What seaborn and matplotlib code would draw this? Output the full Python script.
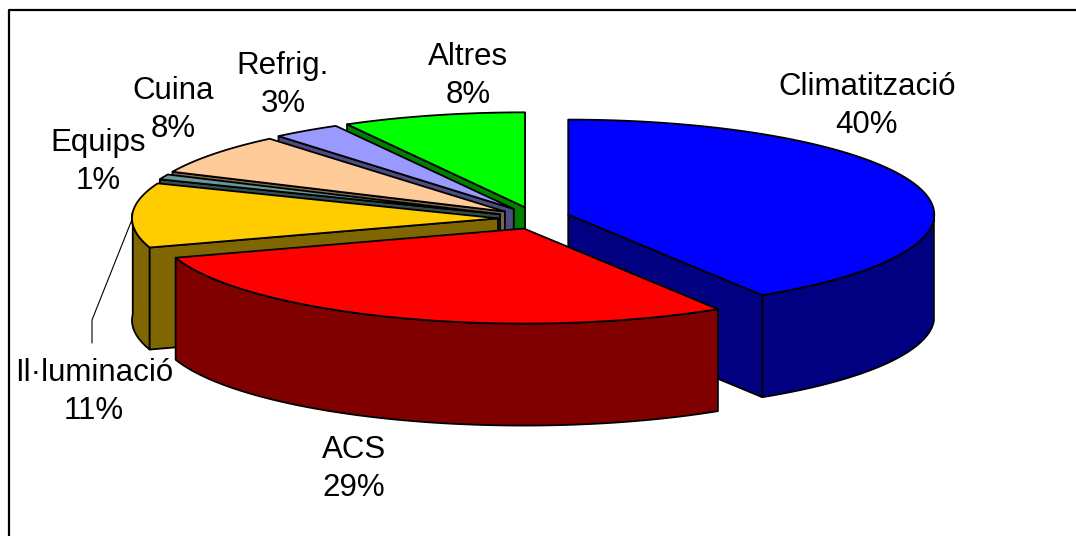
import numpy as np
import pandas as pd
import matplotlib
matplotlib.use("Agg")
import matplotlib.pyplot as plt
from matplotlib.patches import Polygon
import seaborn as sns

# Energy use shares, clockwise from twelve o'clock
categories = ["Climatització", "ACS", "Il·luminació", "Equips", "Cuina", "Refrig.", "Altres"]
shares = [40, 29, 11, 1, 8, 3, 8]
top_colors = ["#0000FF", "#FF0000", "#FFCC00", "#669999", "#FFCC99", "#9999FF", "#00FF00"]
side_colors = ["#000080", "#800000", "#806600", "#334C4C", "#80664C", "#4C4C80", "#008000"]

# Pie geometry in canvas pixels
CX, CY = 534, 218
RX, RY = 366, 95
DEPTH = 102
EXPLODE_X, EXPLODE_Y = 36, 11
EDGE = 1.3

# Angular skew of the tilted view, in degrees
SKEW_AT = [0, 144, 288, 320, 331, 360]
SKEW_BY = [0, 4, 3.6, -0.4, -0.3, 0]

sns.set_theme(style="white")
plt.rcParams["font.family"] = ["Liberation Sans", "DejaVu Sans"]

df = pd.DataFrame({"category": categories, "share": shares,
                   "top": sns.color_palette(top_colors), "side": sns.color_palette(side_colors)})
df["start"] = df["share"].cumsum().shift(fill_value=0) * 3.6
df["end"] = df["share"].cumsum() * 3.6


def rim(apex, t):
    t = np.asarray(t, dtype=float)
    a = np.radians(t + np.interp(t, SKEW_AT, SKEW_BY))
    return np.column_stack([apex[0] + RX * np.sin(a), apex[1] - RY * np.cos(a)])


fig = plt.figure(figsize=(10.76, 5.36), dpi=100)
ax = fig.add_axes([0, 0, 1, 1])
ax.set_xlim(0, 1076)
ax.set_ylim(536, 0)
ax.axis("off")

# Chart frame: only the top and left rules are inside the canvas
ax.plot([9, 9, 1076], [536, 10, 10], color="black", lw=1.6, solid_capstyle="butt", zorder=0)


def draw_slice(row, z):
    mid = np.radians((row["start"] + row["end"]) / 2)
    apex = (CX + EXPLODE_X * np.sin(mid), CY - EXPLODE_Y * np.cos(mid))
    style = dict(edgecolor="black", linewidth=EDGE, joinstyle="round", zorder=z)
    down = np.array([0, DEPTH])

    # Outer wall: only the part of the rim facing the viewer
    lo, hi = max(row["start"], 90), min(row["end"], 270)
    if lo < hi:
        arc = rim(apex, np.linspace(lo, hi, 80))
        ax.add_patch(Polygon(np.vstack([arc, (arc + down)[::-1]]), facecolor=row["side"], **style))

    # Cut faces that turn toward the viewer
    for t, visible in ((row["start"], row["start"] >= 180), (row["end"], row["end"] <= 180)):
        if visible:
            p = rim(apex, [t])[0]
            ax.add_patch(Polygon([apex, p, p + down, np.array(apex) + down],
                                 facecolor=row["side"], **style))

    # Top face
    arc = rim(apex, np.linspace(row["start"], row["end"], 120))
    ax.add_patch(Polygon(np.vstack([apex, arc]), facecolor=row["top"], **style))


paint_order = ["Altres", "Refrig.", "Cuina", "Equips", "Il·luminació", "Climatització", "ACS"]
for z, name in enumerate(paint_order, start=2):
    draw_slice(df[df["category"] == name].iloc[0], z)

# Category labels with their shares
label_xy = {"Climatització": (867, 106), "ACS": (354, 469), "Il·luminació": (94, 392),
            "Equips": (98, 162), "Cuina": (173, 110), "Refrig.": (283, 85), "Altres": (468, 76)}
for name, share in zip(categories, shares):
    x, y = label_xy[name]
    ax.text(x, y, f"{name}\n{share}%", ha="center", va="center", ma="center",
            fontsize=22.5, color="black", linespacing=1.36, zorder=20)

# Leader line from the lighting slice to its label
ax.plot([133, 92, 92], [217, 320, 343], color="black", lw=0.8, zorder=1)

fig.savefig("out.png", dpi=100, facecolor="white")
